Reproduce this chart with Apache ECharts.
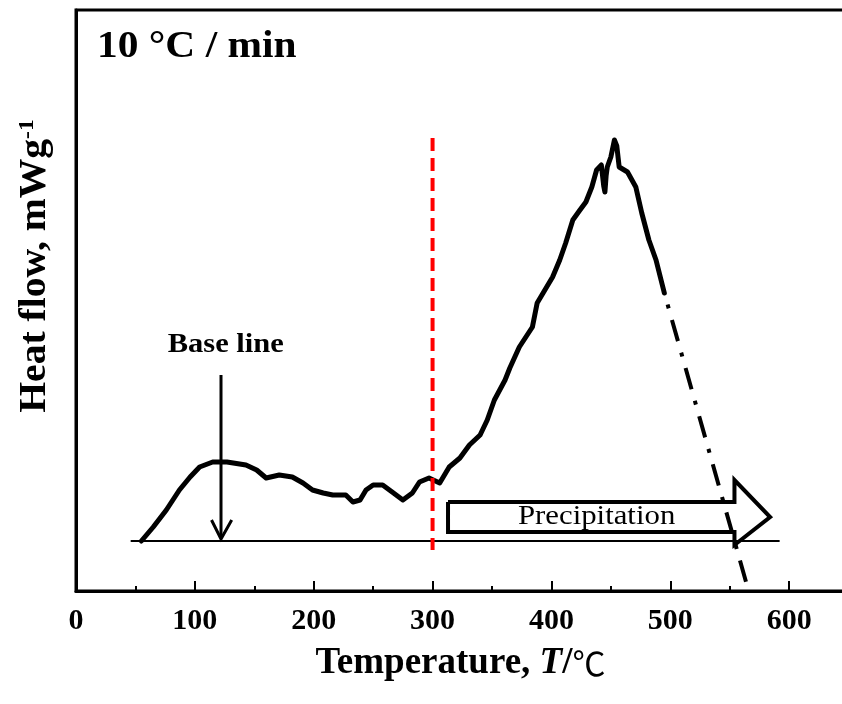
<!DOCTYPE html>
<html>
<head>
<meta charset="utf-8">
<script src="https://cdn.jsdelivr.net/npm/echarts@6/dist/echarts.min.js"></script>
<style>
html,body{margin:0;padding:0;background:#fff;}
#chart{width:842px;height:704px;}
</style>
</head>
<body>
<div id="chart"></div>
<script>
// ---- data ----
const temps = [55,65,76,87,96,104,115,127,143,152,160,171,182,191,199,208,216,227,233,239,244,250,258,266,275,283,289,297,306,314,323,331,340,346,352,361,365,373,384,388,392,401,407,412,418,424,429,434,438,442,444,445,446,447,450,453,455,457,464,471,476,482,488,495];
const heatFlow = [0.0,1.4,3.1,5.1,6.4,7.4,7.9,7.9,7.6,7.1,6.3,6.6,6.4,5.8,5.1,4.8,4.6,4.6,3.9,4.1,5.1,5.6,5.6,4.9,4.1,4.8,5.9,6.3,5.8,7.4,8.3,9.6,10.6,12.1,14.1,16.1,17.3,19.4,21.4,23.8,24.6,26.4,28.1,29.8,32.1,33.1,33.9,35.4,37.1,37.6,35.5,34.9,36.5,37.4,38.4,40.1,39.5,37.4,36.9,35.4,32.8,30.1,28.1,24.8];
const extrapT = [495,564];
const extrapV = [24.8,-4.2];
const baseLineT = [46,592];
const baseLineV = [0,0];
const onsetT = [300,300];
const onsetV = [40.3,-0.9];
const baseArrowT = [122,122];
const baseArrowV = [16.6,0.3];
const baseHeadT = [114,122,131];
const baseHeadV = [2.1,0.2,2.1];
const precipT = [313,554,554,584,554,554,313,313];
const precipV = [3.9,3.9,6.1,2.4,-0.4,0.9,0.9,3.9];
const xTickLabels = [0,100,200,300,400,500,600];
const baseLabelPos = [126,19.6];
const precipLabelPos = [438,2.4];

const zip = (a,b) => a.map((v,i) => [v,b[i]]);
const SERIF = '"Liberation Serif","Times New Roman",serif';

const chart = echarts.init(document.getElementById('chart'), null, {renderer:'canvas'});

const lineSeries = (name, xs, ys, style, extra) => Object.assign({
  name, type:'line', data: zip(xs,ys), symbol:'none', silent:true, animation:false,
  lineStyle: style
}, extra || {});

chart.setOption({
  backgroundColor:'#fff',
  animation:false,
  grid:{left:76, top:10, width:769, height:581, show:true, borderColor:'#000', borderWidth:3,
        containLabel:false, outerBoundsMode:'none'},
  xAxis:{
    type:'value', min:0, max:647, interval:100,
    axisLine:{show:true, onZero:false, lineStyle:{color:'#000', width:3}},
    axisTick:{show:true, inside:true, length:10, lineStyle:{color:'#000', width:2}},
    minorTick:{show:true, splitNumber:2, length:5, lineStyle:{color:'#000', width:2}},
    splitLine:{show:false},
    axisLabel:{margin:15, color:'#000', fontFamily:SERIF, fontWeight:'bold', fontSize:30,
      formatter: v => xTickLabels.includes(v) ? String(v) : ''},
    name:'{b|Temperature, }{i|T}{b|/}{c|℃}',
    nameLocation:'middle', nameGap:54,
    nameTextStyle:{rich:{
      b:{fontFamily:SERIF, fontWeight:'bold', fontSize:37, color:'#000'},
      i:{fontFamily:SERIF, fontWeight:'bold', fontStyle:'italic', fontSize:37, color:'#000'},
      c:{fontFamily:'"Noto Sans CJK SC"', fontWeight:'normal', fontSize:33, color:'#000'}
    }}
  },
  yAxis:{
    type:'value', min:-5, max:53.1,
    axisLine:{show:true, onZero:false, lineStyle:{color:'#000', width:3}},
    axisTick:{show:false}, axisLabel:{show:false}, splitLine:{show:false}
  },
  series:[
    lineSeries('Baseline', baseLineT, baseLineV, {color:'#000', width:2}),
    lineSeries('Precipitation', precipT, precipV, {color:'#000', width:4, join:'miter'}),
    lineSeries('Heat flow', temps, heatFlow, {color:'#000', width:5, join:'round', cap:'round'}),
    lineSeries('Extrapolation', extrapT, extrapV, {color:'#000', width:4, type:[22,12,4,12], dashOffset:22}),
    lineSeries('Base arrow', baseArrowT, baseArrowV, {color:'#000', width:3}),
    lineSeries('Base arrow head', baseHeadT, baseHeadV, {color:'#000', width:3, join:'miter'}),
    lineSeries('Onset', onsetT, onsetV, {color:'#ff0000', width:4, type:[13,7]})
  ]
});

const bp = chart.convertToPixel({gridIndex:0}, baseLabelPos);
const pp = chart.convertToPixel({gridIndex:0}, precipLabelPos);

chart.setOption({
  graphic:[
    {type:'text', x:97, y:47, scaleX:1.12, style:{text:'10 °C / min', fill:'#000', font:'bold 37px ' + SERIF, verticalAlign:'middle'}},
    {type:'text', x:bp[0], y:bp[1], scaleX:1.13, style:{text:'Base line', fill:'#000', font:'bold 27px ' + SERIF, align:'center', verticalAlign:'middle'}},
    {type:'text', x:pp[0], y:pp[1], scaleX:1.1, style:{text:'Precipitation', fill:'#000', font:'28px ' + SERIF, align:'center', verticalAlign:'middle'}},
    {type:'text', x:35, y:266, rotation:Math.PI/2, scaleX:1.07, style:{
      text:'{b|Heat flow, mWg}{s|-1}', align:'center', verticalAlign:'middle',
      rich:{
        b:{font:'bold 37px ' + SERIF, fill:'#000'},
        s:{font:'bold 22px ' + SERIF, fill:'#000', verticalAlign:'top', padding:[0,0,14,0]}
      }
    }}
  ]
});
</script>
</body>
</html>
